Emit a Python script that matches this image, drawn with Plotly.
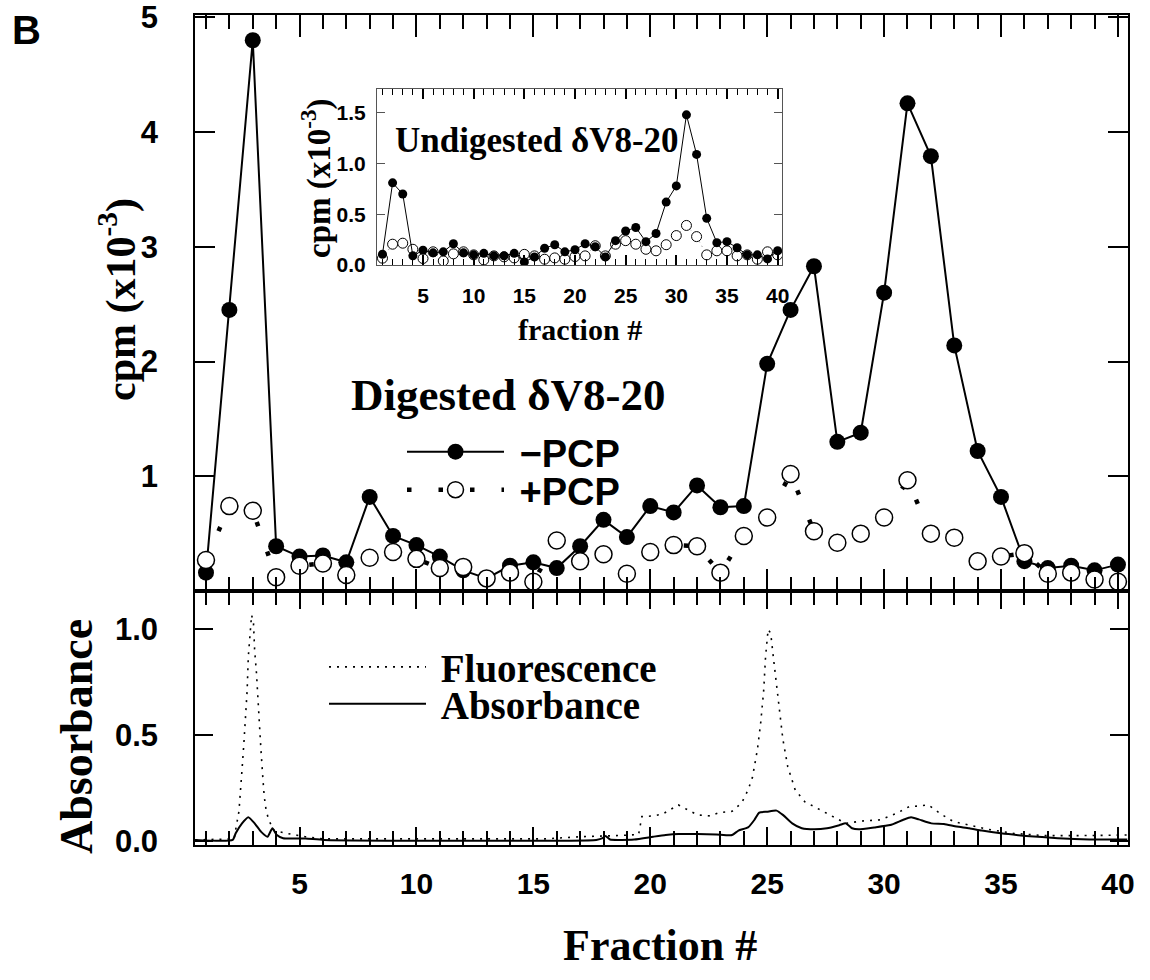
import plotly.graph_objects as go

# ---------------- data ----------------
fractions = list(range(1, 41))

# Digested dV8-20 (cpm x10^-3)
minus_pcp = [0.16, 2.45, 4.80, 0.39, 0.30, 0.31, 0.25, 0.82, 0.48, 0.40,
             0.30, 0.18, 0.11, 0.22, 0.25, 0.20, 0.39, 0.62, 0.47, 0.74,
             0.685, 0.92, 0.73, 0.74, 1.98, 2.45, 2.83, 1.30, 1.38, 2.60,
             4.25, 3.79, 2.14, 1.22, 0.82, 0.26, 0.20, 0.22, 0.18, 0.23]
plus_pcp = [0.27, 0.74, 0.70, 0.12, 0.22, 0.24, 0.14, 0.29, 0.34, 0.28,
            0.20, 0.21, 0.11, 0.16, 0.08, 0.44, 0.26, 0.32, 0.15, 0.34,
            0.40, 0.39, 0.16, 0.48, 0.64, 1.02, 0.52, 0.42, 0.50, 0.64,
            0.965, 0.50, 0.465, 0.26, 0.30, 0.33, 0.15, 0.16, 0.10, 0.08]

# Undigested dV8-20 (inset)
und_minus = [0.106, 0.81, 0.70, 0.09, 0.145, 0.12, 0.13, 0.21, 0.12, 0.10,
             0.115, 0.09, 0.09, 0.115, 0.03, 0.08, 0.165, 0.20, 0.13, 0.15,
             0.21, 0.18, 0.08, 0.24, 0.335, 0.37, 0.23, 0.31, 0.62, 0.78,
             1.48, 1.09, 0.46, 0.22, 0.23, 0.17, 0.10, 0.10, 0.06, 0.14]
und_plus = [0.067, 0.205, 0.215, 0.155, 0.064, 0.13, 0.04, 0.11, 0.13, 0.10,
            0.05, 0.09, 0.08, 0.07, 0.105, 0.09, 0.057, 0.07, 0.057, 0.083,
            0.09, 0.19, 0.09, 0.205, 0.24, 0.205, 0.155, 0.14, 0.20, 0.29,
            0.39, 0.28, 0.10, 0.14, 0.14, 0.09, 0.10, 0.057, 0.13, 0.10]

# Fluorescence trace (fraction, value)
flu_x = [0.55, 2.2, 2.41, 2.49, 2.54, 2.62, 2.68, 2.76, 2.81, 2.89,
         2.95, 3.03, 3.08, 3.16, 3.22, 3.30, 3.35, 3.43, 3.49, 3.57,
         3.68, 3.90, 4.44, 5.25, 6.0, 15.5, 17.0, 18.5, 19.5, 19.64,
         20.12, 20.53, 21.2, 21.61, 22.02, 22.56, 22.96, 23.5, 23.91, 24.18,
         24.37, 24.58, 24.72, 24.85, 24.93, 25.04, 25.15, 25.26, 25.4, 25.53,
         25.67, 25.88, 26.2, 26.61, 27.15, 27.82, 28.36, 29.04, 29.86, 30.53,
         31.07, 31.48, 31.89, 32.43, 32.97, 33.64, 34.45, 35.53, 36.89, 38.24,
         40.4]
flu_y = [0.005, 0.01, 0.14, 0.24, 0.335, 0.46, 0.555, 0.71, 0.87, 1.01,
         1.066, 1.03, 0.90, 0.79, 0.665, 0.555, 0.43, 0.30, 0.21, 0.146,
         0.10, 0.05, 0.036, 0.02, 0.01, 0.01, 0.02, 0.025, 0.03, 0.115,
         0.118, 0.127, 0.17, 0.146, 0.123, 0.118, 0.134, 0.14, 0.18, 0.24,
         0.30, 0.43, 0.555, 0.71, 0.87, 0.998, 0.98, 0.87, 0.73, 0.59,
         0.48, 0.35, 0.24, 0.185, 0.154, 0.115, 0.083, 0.094, 0.10, 0.13,
         0.162, 0.165, 0.17, 0.127, 0.091, 0.075, 0.055, 0.036, 0.025, 0.025,
         0.028]

# Absorbance trace (fraction, value)
abs_x = [0.52, 2.14, 2.27, 2.54, 2.81, 3.08, 3.35, 3.63, 3.84, 4.03,
         4.30, 5.25, 6.06, 17.69, 17.96, 18.09, 18.28, 19.31, 20.12, 20.66,
         21.2, 22.02, 22.83, 23.5, 23.77, 24.18, 24.45, 24.66, 24.99, 25.4,
         25.67, 26.07, 26.48, 27.02, 27.56, 28.1, 28.36, 28.63, 28.91, 29.58,
         30.26, 30.8, 31.15, 31.48, 32.02, 32.56, 33.1, 33.64, 34.18, 34.99,
         36.07, 37.43, 38.78, 40.4]
abs_y = [0.005, 0.005, 0.036, 0.083, 0.112, 0.083, 0.044, 0.02, 0.06, 0.028,
         0.013, 0.012, 0.005, 0.005, 0.013, 0.024, 0.007, 0.007, 0.02, 0.028,
         0.033, 0.033, 0.031, 0.028, 0.049, 0.064, 0.099, 0.134, 0.138, 0.143,
         0.123, 0.083, 0.06, 0.055, 0.06, 0.075, 0.083, 0.06, 0.055, 0.064,
         0.075, 0.099, 0.112, 0.102, 0.083, 0.08, 0.068, 0.06, 0.049, 0.036,
         0.024, 0.013, 0.007, 0.007]

x_tickvals = [5, 10, 15, 20, 25, 30, 35, 40]
x_ticktext = ["5", "10", "15", "20", "25", "30", "35", "40"]
cpm_tickvals = [1, 2, 3, 4, 5]
abs_tickvals = [0.0, 0.5, 1.0]
abs_ticktext = ["0.0", "0.5", "1.0"]
inset_ytickvals = [0.0, 0.5, 1.0, 1.5]
inset_yticktext = ["0.0", "0.5", "1.0", "1.5"]

# ---------------- geometry (page pixels -> paper) ----------------
W, H = 1150, 980
OFF = 0                      # body margin removed by the post script
X0, X1, Y0, Y1 = 195, 1128, 15, 845   # plot area in page pixels
ML, MT = X0 - OFF, Y0 - OFF
MR, MB = W - (X1 - OFF), H - (Y1 - OFF)
PW, PH = X1 - X0, Y1 - Y0


def px(x):
    return (x - X0) / PW


def py(y):
    return (Y1 - y) / PH


SANS = "Liberation Sans"
SERIF = "Liberation Serif"
NB = "\u00a0"

fig = go.Figure()

# main panel
fig.add_trace(go.Scatter(
    x=fractions, y=minus_pcp, name=NB + "\u2212PCP", mode="lines+markers",
    line=dict(color="black", width=2),
    marker=dict(size=16, color="black"),
    xaxis="x", yaxis="y", legend="legend"))
fig.add_trace(go.Scatter(
    x=fractions, y=plus_pcp, name=NB + "+PCP", mode="lines+markers",
    line=dict(color="black", width=4.5, dash="4.5px,27px"),
    marker=dict(size=17, color="white", line=dict(color="black", width=1.5)),
    xaxis="x", yaxis="y", legend="legend3"))

# bottom panel
fig.add_trace(go.Scatter(
    x=flu_x, y=flu_y, name=NB + "Fluorescence", mode="lines",
    line=dict(color="black", width=1.6, dash="2px,6px"),
    xaxis="x2", yaxis="y2", legend="legend2"))
fig.add_trace(go.Scatter(
    x=abs_x, y=abs_y, name=NB + "Absorbance", mode="lines",
    line=dict(color="black", width=2, shape="spline", smoothing=0.5),
    xaxis="x2", yaxis="y2", legend="legend4"))

# inset
fig.add_trace(go.Scatter(
    x=fractions, y=und_plus, mode="lines+markers", showlegend=False,
    line=dict(color="#777", width=1, dash="1px,4px"),
    marker=dict(size=10, color="white", line=dict(color="black", width=1)),
    xaxis="x3", yaxis="y3"))
fig.add_trace(go.Scatter(
    x=fractions, y=und_minus, mode="lines+markers", showlegend=False,
    line=dict(color="black", width=1),
    marker=dict(size=9, color="black"),
    xaxis="x3", yaxis="y3"))

split = py(591)
xrange_ = [0.53, 40.43]

common_x = dict(range=xrange_, showline=True, linecolor="black", linewidth=1.5,
                mirror="ticks", ticks="inside", tickcolor="black", tickwidth=1.5,
                tickvals=x_tickvals, showgrid=False, zeroline=False, automargin=False,
                ticklabeloverflow="allow",
                minor=dict(dtick=1, tick0=0, ticks="inside", ticklen=14,
                           tickcolor="black", tickwidth=1.5, showgrid=False))
tick_font = dict(family=SANS, size=30, color="black", weight="bold")
ytick_font = dict(family=SANS, size=31, color="black", weight="bold")


def leg(x, y, font):
    return dict(x=px(x), y=py(y), xanchor="left", yanchor="middle",
                bgcolor="rgba(0,0,0,0)", itemwidth=97, borderwidth=0, font=font)


sans_leg = dict(family=SANS, size=38, color="black", weight="bold")
serif_leg = dict(family=SERIF, size=39, color="black", weight="bold")

fig.update_layout(
    width=W, height=H,
    margin=dict(l=ML, r=MR, t=MT, b=MB, autoexpand=False),
    paper_bgcolor="white", plot_bgcolor="white",
    xaxis=dict(common_x, domain=[0, 1], anchor="y", showticklabels=False, ticklen=22),
    yaxis=dict(domain=[split, 1], anchor="x", range=[0, 5.02],
               tickvals=cpm_tickvals, ticks="inside", ticklen=20,
               tickcolor="black", tickwidth=1.5, showline=True, linecolor="black",
               linewidth=1.5, mirror="ticks", showgrid=False, zeroline=False,
               automargin=False, tickfont=ytick_font, ticklabelstandoff=29,
               ticklabeloverflow="allow"),
    xaxis2=dict(common_x, domain=[0, 1], anchor="y2", ticklen=18,
                ticktext=x_ticktext, tickfont=tick_font, ticklabelstandoff=11),
    yaxis2=dict(domain=[0, split], anchor="x2", range=[-0.019, 1.179],
                tickvals=abs_tickvals, ticktext=abs_ticktext, ticks="inside",
                ticklen=18, tickcolor="black", tickwidth=1.5, showline=True,
                linecolor="black", linewidth=1.5, mirror="ticks", showgrid=False,
                zeroline=False, automargin=False, tickfont=ytick_font,
                ticklabelstandoff=29, ticklabeloverflow="allow"),
    xaxis3=dict(domain=[px(377), px(782)], anchor="y3", range=[0.46, 40.43],
                showline=True, linecolor="#555", linewidth=1, mirror="ticks",
                ticks="inside", ticklen=10, tickcolor="black", tickwidth=1.5,
                tickvals=x_tickvals, ticktext=x_ticktext, showgrid=False,
                zeroline=False, automargin=False, ticklabeloverflow="allow",
                minor=dict(dtick=1, tick0=0, ticks="inside", ticklen=6,
                           tickcolor="black", tickwidth=1, showgrid=False),
                tickfont=dict(family=SANS, size=21, color="black", weight="bold"),
                ticklabelstandoff=12),
    yaxis3=dict(domain=[py(265), py(89)], anchor="x3", range=[0, 1.735],
                tickvals=inset_ytickvals, ticktext=inset_yticktext,
                showline=True, linecolor="#555", linewidth=1, mirror="ticks",
                ticks="inside", ticklen=8, tickcolor="#555", tickwidth=1,
                showgrid=False, zeroline=False, automargin=False,
                ticklabeloverflow="allow",
                tickfont=dict(family=SANS, size=21, color="black", weight="bold"),
                ticklabelstandoff=6),
    legend=leg(402, 452, sans_leg),
    legend3=leg(402, 490, sans_leg),
    legend2=leg(324, 667, serif_leg),
    legend4=leg(324, 704, serif_leg),
    showlegend=True,
)

ann = [
    dict(text="B", x=px(26), y=py(30), font=dict(family=SANS, size=40, weight="bold")),
    dict(text="cpm (x10<sup>-3</sup>)", x=px(118), y=py(300), textangle=-90,
         font=dict(family=SERIF, size=42, weight="bold")),
    dict(text="Absorbance", x=px(76), y=py(736), textangle=-90,
         font=dict(family=SERIF, size=46, weight="bold")),
    dict(text="Fraction #", x=px(660), y=py(945),
         font=dict(family=SERIF, size=44, weight="bold")),
    dict(text="Digested \u03b4V8-20", x=px(508), y=py(395),
         font=dict(family=SERIF, size=45, weight="bold")),
    dict(text="Undigested \u03b4V8-20", x=px(537), y=py(140),
         font=dict(family=SERIF, size=35, weight="bold")),
    dict(text="cpm (x10<sup>-3</sup>)", x=px(316), y=py(179), textangle=-90,
         font=dict(family=SERIF, size=33, weight="bold")),
    dict(text="fraction #", x=px(580), y=py(329),
         font=dict(family=SERIF, size=30, weight="bold")),
]
for a in ann:
    a.update(xref="paper", yref="paper", showarrow=False,
             xanchor="center", yanchor="middle")
    a["font"]["color"] = "black"
fig.update_layout(annotations=ann)

fig.write_html(
    "out.html",
    config={"displayModeBar": False},
    post_script="document.body.style.margin='0';document.body.style.overflow='hidden';",
)
